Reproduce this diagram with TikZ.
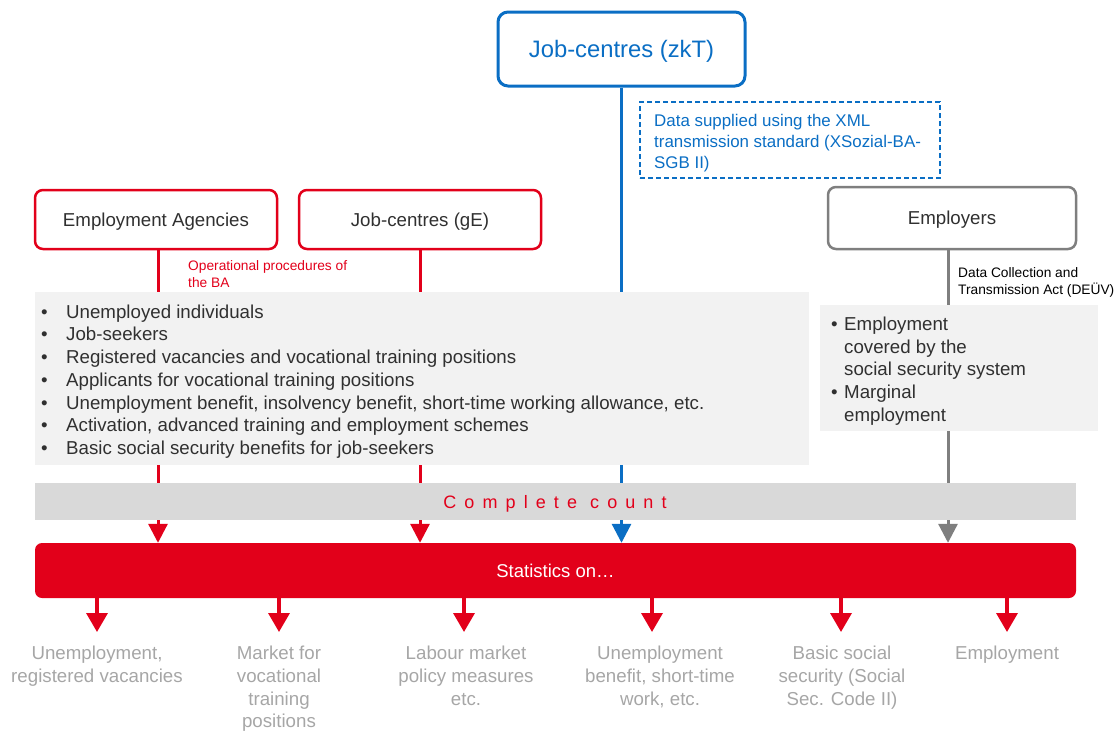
\documentclass[tikz,border=0pt]{standalone}
\usepackage{fontspec}
\setmainfont{Liberation Sans}
\newfontfamily\spacedfont[LetterSpace=45]{Liberation Sans}
\usetikzlibrary{arrows.meta}
\definecolor{bared}{HTML}{E2001A}
\definecolor{bablue}{HTML}{0A6EC4}
\definecolor{bagray}{HTML}{7F7F7F}
\definecolor{txtgray}{HTML}{A6A6A6}
\definecolor{boxfill}{HTML}{F2F2F2}
\definecolor{barfill}{HTML}{D9D9D9}
\definecolor{darktxt}{HTML}{303030}
\pgfdeclarelayer{bg}
\pgfsetlayers{bg,main}
\newcommand{\bltA}{\makebox[25pt][l]{\textbullet}}
\newcommand{\bltB}{\makebox[13pt][l]{\textbullet}}
\newcommand{\indB}{\hspace*{13pt}}
\begin{document}
\begin{tikzpicture}[x=1pt,y=-1pt,
  mainfont/.style={font=\fontsize{18.7}{22.7}\selectfont},
  srcbox/.style={draw, rounded corners=8pt, line width=2.5pt, inner sep=0pt,
    text=darktxt, mainfont, minimum width=242pt, minimum height=59pt,
    text height=13.4pt, text depth=0pt},
  conn/.style={line width=3pt, -{Triangle[width=19pt,length=19pt]}},
  outarrow/.style={line width=3.5pt, bared, -{Triangle[width=21pt,length=19pt]}},
  outlabel/.style={anchor=north, align=center, inner sep=0pt, text=txtgray, mainfont},
  smalltxt/.style={anchor=west, align=left, inner sep=0pt, font=\fontsize{13.75}{17}\selectfont},
  panel/.style={fill=boxfill, draw=none, inner sep=0pt}
]
\useasboundingbox (0,0) rectangle (1118,731);

% source boxes
\node[srcbox, draw=bablue, line width=3pt, rounded corners=10pt, text=bablue,
  minimum width=247pt, minimum height=74pt, font=\fontsize{23.8}{28}\selectfont,
  text height=17pt]
  (zkt) at (621.5,49) {Job-centres (zkT)};
\node[srcbox, draw=bared] (ea) at (156,219.5) {Employment Agencies};
\node[srcbox, draw=bared] (ge) at (420,219.5) {Job-centres (gE)};
\node[srcbox, draw=bagray, minimum width=248pt, minimum height=62pt] (emp) at (952,218) {Employers};

% dashed note
\node[draw=bablue, dashed, dash pattern=on 5pt off 3pt, line width=1.2pt,
  minimum width=300pt, minimum height=76pt, inner sep=0pt] (xmlbox) at (790,140) {};
\node[anchor=west, align=left, inner sep=0pt, text=bablue,
  font=\fontsize{16.9}{21}\selectfont] (xmltxt) at (654,143)
  {Data supplied using the XML\\transmission standard (XSozial-BA-\\SGB II)};

% small labels
\node[smalltxt, text=bared] (optxt) at (188,274.5) {Operational procedures of\\the BA};
\node[smalltxt, text=black] (deuv) at (958,282) {Data Collection and\\Transmission Act (DEÜV)};

% grey panels
\node[panel, minimum width=774pt, minimum height=173pt] (list) at (422,378.5) {};
\node[anchor=west, align=left, inner sep=0pt, text=darktxt, mainfont] (listtxt) at (41,381.5)
  {\bltA Unemployed individuals\\
   \bltA Job-seekers\\
   \bltA Registered vacancies and vocational training positions\\
   \bltA Applicants for vocational training positions\\
   \bltA Unemployment benefit, insolvency benefit, short-time working allowance, etc.\\
   \bltA Activation, advanced training and employment schemes\\
   \bltA Basic social security benefits for job-seekers};

\node[panel, minimum width=278pt, minimum height=126pt] (emplist) at (959,368) {};
\node[anchor=west, align=left, inner sep=0pt, text=darktxt, mainfont] (emptxt) at (831,371)
  {\bltB Employment\\
   \indB covered by the\\
   \indB social security system\\
   \bltB Marginal\\
   \indB employment};

% bars
\node[fill=barfill, minimum width=1041pt, minimum height=37pt, inner sep=0pt] (count) at (555.5,501.5) {};
\node[text=bared, inner sep=0pt, font=\spacedfont\fontsize{18}{22}\selectfont] (counttxt) at (555,504) {Complete count};
\node[fill=bared, rounded corners=7pt, minimum width=1041pt, minimum height=55pt, inner sep=0pt,
  text=white, font=\fontsize{18.5}{22}\selectfont, text height=13.3pt, text depth=0pt] (stats) at (555.5,570.5) {Statistics on…};

% connectors behind panels
\begin{pgfonlayer}{bg}
\draw[conn, bared] ([xshift=2pt]ea.south) -- ([xshift=2pt]ea.south |- stats.north);
\draw[conn, bared] (ge.south) -- (ge.south |- stats.north);
\draw[conn, bablue] (zkt.south) -- (zkt.south |- stats.north);
\draw[conn, bagray] ([xshift=-4pt]emp.south) -- ([xshift=-4pt]emp.south |- stats.north);
\end{pgfonlayer}

% outputs
\coordinate (o1) at (97,632);
\coordinate (o2) at (279,632);
\coordinate (o3) at (464,632);
\coordinate (o4) at (652,632);
\coordinate (o5) at (841,632);
\coordinate (o6) at (1007,632);
\foreach \i in {1,...,6} {\draw[outarrow] (stats.south -| o\i) -- (o\i);}

\node[outlabel] (l1) at (97,646) {Unemployment,\\registered vacancies};
\node[outlabel] (l2) at (279,646) {Market for\\vocational\\training\\positions};
\node[outlabel] (l3) at (466,646) {Labour market\\policy measures\\etc.};
\node[outlabel] (l4) at (660,646) {Unemployment\\benefit, short-time\\work, etc.};
\node[outlabel] (l5) at (842,646) {Basic social\\security (Social\\Sec. Code II)};
\node[outlabel] (l6) at (1007,646) {Employment};
\end{tikzpicture}
\end{document}
